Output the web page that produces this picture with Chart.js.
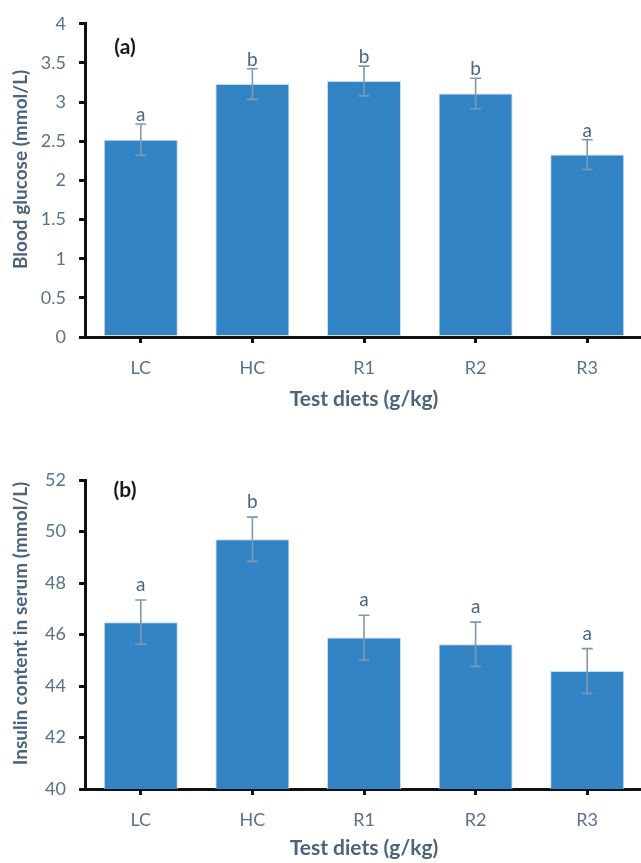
<!DOCTYPE html>
<html><head><meta charset="utf-8">
<script src="https://cdn.jsdelivr.net/npm/chart.js@4"></script>
<style>
html,body{margin:0;padding:0;background:#fff;overflow:hidden;width:641px;height:863px}
#w1{position:absolute;left:0;top:0;width:645px;height:420px}
#w2{position:absolute;left:0;top:430px;width:645px;height:433px}
</style></head><body>
<div id="w1"><canvas id="c1"></canvas></div>
<div id="w2"><canvas id="c2"></canvas></div>
<script>
const categories = ['LC', 'HC', 'R1', 'R2', 'R3'];
const glucose = [2.52, 3.23, 3.27, 3.11, 2.33];
const glucoseErr = [0.20, 0.195, 0.19, 0.195, 0.19];
const glucoseLetters = ['a', 'b', 'b', 'b', 'a'];
const glucoseTicks = [0, 0.5, 1, 1.5, 2, 2.5, 3, 3.5, 4];
const insulin = [46.48, 49.70, 45.88, 45.62, 44.58];
const insulinErr = [0.86, 0.86, 0.87, 0.86, 0.87];
const insulinLetters = ['a', 'b', 'a', 'a', 'a'];
const insulinTicks = [40, 42, 44, 46, 48, 50, 52];

const FONT = 'Lato, "Open Sans", sans-serif';
const TICK_COLOR = '#5a7189';
const TITLE_COLOR = '#4b637c';
const BAR_COLOR = '#3284c5';
const ERR_COLOR = '#8099b3';
const LETTER_COLOR = '#4c6683';

const extrasPlugin = {
  id: 'extras',
  afterDatasetsDraw(chart, args, opts) {
    const ctx = chart.ctx;
    const meta = chart.getDatasetMeta(0);
    const y = chart.scales.y;
    const area = chart.chartArea;
    ctx.save();
    meta.data.forEach((bar, i) => {
      const v = opts.values[i], e = opts.errors[i];
      const yt = y.getPixelForValue(v + e), yb = y.getPixelForValue(v - e);
      ctx.strokeStyle = ERR_COLOR;
      ctx.lineWidth = 1.6;
      ctx.beginPath();
      ctx.moveTo(bar.x, yt); ctx.lineTo(bar.x, yb);
      ctx.moveTo(bar.x - 5.5, yt); ctx.lineTo(bar.x + 5.5, yt);
      ctx.moveTo(bar.x - 5.5, yb); ctx.lineTo(bar.x + 5.5, yb);
      ctx.stroke();
      ctx.fillStyle = LETTER_COLOR;
      ctx.font = '19px ' + FONT;
      ctx.textAlign = 'center';
      ctx.textBaseline = 'alphabetic';
      ctx.fillText(opts.letters[i], bar.x, yt - opts.letterGap);
    });
    // panel label
    ctx.fillStyle = '#1a1a1a';
    ctx.font = 'bold 21px ' + FONT;
    ctx.textAlign = 'center';
    ctx.textBaseline = 'middle';
    ctx.fillText(opts.panel, area.left + opts.panelDx, area.top + opts.panelDy);
    // y axis title
    ctx.translate(21, (area.top + area.bottom) / 2 - 11);
    ctx.rotate(-Math.PI / 2);
    ctx.fillStyle = TITLE_COLOR;
    ctx.font = 'bold 19px ' + FONT;
    ctx.fillText(opts.yTitle, 0, 0);
    ctx.restore();
  }
};

function makeChart(id, values, errors, letters, ticks, yTitle, panel, cfg) {
  return new Chart(document.getElementById(id), {
    type: 'bar',
    data: {
      labels: categories,
      datasets: [{
        data: values,
        backgroundColor: BAR_COLOR,
        borderColor: 'rgba(190,215,240,0.9)',
        borderWidth: 1,
        borderSkipped: 'bottom',
        categoryPercentage: 1,
        barPercentage: 0.663
      }]
    },
    options: {
      responsive: true,
      maintainAspectRatio: false,
      animation: false,
      layout: { padding: { top: cfg.padTop, left: 0, right: 2, bottom: cfg.padBottom } },
      plugins: {
        legend: { display: false },
        tooltip: { enabled: false },
        extras: { values, errors, letters, panel, yTitle, letterGap: cfg.letterGap, panelDx: cfg.panelDx, panelDy: cfg.panelDy }
      },
      scales: {
        x: {
          afterFit(s) { s.height = cfg.xHeight; },
          grid: { display: true, drawOnChartArea: false, offset: false, tickLength: 6, lineWidth: 3, color: '#111' },
          border: { display: true, color: '#111', width: 3 },
          ticks: { color: TICK_COLOR, font: { family: FONT, size: 18 }, padding: 14 },
          title: { display: true, text: 'Test diets (g/kg)', color: TITLE_COLOR, font: { family: FONT, size: 21, weight: 'bold' }, padding: { top: 0, bottom: cfg.xTitlePad } }
        },
        y: {
          min: ticks[0],
          max: ticks[ticks.length - 1],
          afterFit(s) { s.width = 85; },
          afterBuildTicks(s) { s.ticks = ticks.map(v => ({ value: v })); },
          grid: { display: true, drawOnChartArea: false, tickLength: 6, lineWidth: 3, color: '#111' },
          border: { display: true, color: '#111', width: 3 },
          ticks: { color: TICK_COLOR, font: { family: FONT, size: 18 }, padding: 13, callback: v => String(v) },
          title: { display: false }
        }
      }
    },
    plugins: [extrasPlugin]
  });
}

makeChart('c1', glucose, glucoseErr, glucoseLetters, glucoseTicks, 'Blood glucose (mmol/L)', '(a)',
  { padTop: 15, padBottom: 8, xHeight: 75, xTitlePad: 0, letterGap: 3, panelDx: 40, panelDy: 23 });
makeChart('c2', insulin, insulinErr, insulinLetters, insulinTicks, 'Insulin content in serum (mmol/L)', '(b)',
  { padTop: 50, padBottom: 2, xHeight: 72, xTitlePad: 0, letterGap: 9, panelDx: 40, panelDy: 10 });
</script>
</body></html>
